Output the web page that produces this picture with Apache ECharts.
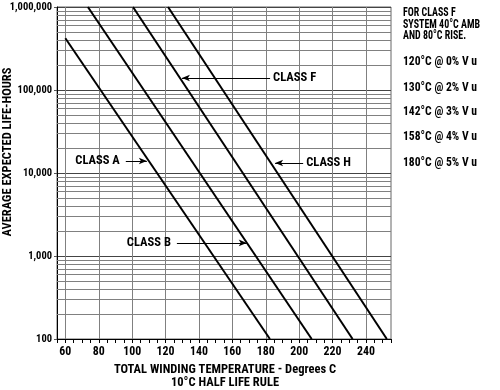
<!DOCTYPE html>
<html><head><meta charset="utf-8">
<script src="https://cdn.jsdelivr.net/npm/echarts@6/dist/echarts.min.js"></script>
<style>html,body{margin:0;padding:0;background:#fff}#c{width:500px;height:390px}</style>
</head><body><div id="c"></div>
<script>
// ---- data ----
const classA = [[60, 420000], [182.5, 100]];
const classB = [[73.5, 1000000], [207.5, 100]];
const classF = [[100.5, 1000000], [232, 100]];
const classH = [[121.5, 1000000], [252.5, 100]];
const xTickLabels = [60, 80, 100, 120, 140, 160, 180, 200, 220, 240];
const xMinorTicks = [55,60,65,70,75,80,85,90,95,100,105,110,115,120,125,130,135,140,145,150,155,160,165,170,175,180,185,190,195,200,205,210,215,220,225,230,235,240,245,250,255];
const yDecades = [100, 1000, 10000, 100000, 1000000];
const yMinorGrid = [];
[100, 1000, 10000, 100000].forEach(d => { for (let m = 2; m <= 9; m++) yMinorGrid.push(d * m); });
const notes = [
  { name: 'CLASS F', from: [182.6, 139500], to: [129.8, 139500] },
  { name: 'CLASS H', from: [202.4, 13200], to: [185.6, 13200] },
  { name: 'CLASS A', from: [96.2, 13950], to: [108.8, 13950] },
  { name: 'CLASS B', from: [126.8, 1436], to: [168.6, 1436] }
];
const sideHeader = ['FOR CLASS F', 'SYSTEM 40°C AMB', 'AND 80°C RISE.'];
const sideRows = ['120°C @ 0% V u', '130°C @ 2% V u', '142°C @ 3% V u', '158°C @ 4% V u', '180°C @ 5% V u'];
const xTitle = ['TOTAL WINDING TEMPERATURE - Degrees C', '10°C HALF LIFE RULE'];
const yTitle = 'AVERAGE EXPECTED LIFE-HOURS';

const FONT = '"Noto Sans Condensed","Roboto Condensed","Liberation Sans Narrow","Liberation Sans",Arial,sans-serif';
const fmt = v => String(Math.round(v)).replace(/\B(?=(\d{3})+(?!\d))/g, ',');

// text measuring, to squeeze the bold sans into the condensed look of the original
const mctx = document.createElement('canvas').getContext('2d');
const mw = (t, s) => { mctx.font = 'bold ' + s + 'px ' + FONT; return mctx.measureText(t).width; };
const fitSize = (t, target, lo, hi) => Math.max(lo, Math.min(hi, 12 * target / mw(t, 12)));
const GS = 12.5;
const scaleFor = (t, target) => Math.min(1, target / mw(t, GS));
const gtext = (t, x, y, sx, align, rot) => ({
  type: 'text', x, y, scaleX: sx, rotation: rot || 0, silent: true, z: 10,
  style: { text: t, fontFamily: FONT, fontWeight: 'bold', fontSize: GS, fill: '#000', align, verticalAlign: 'middle' }
});

const yLabSize = fitSize('1,000,000', 40, 10.5, 13);
const xLabSize = fitSize('100', 18, 10.5, 13);

const chart = echarts.init(document.getElementById('c'), null, { renderer: 'canvas' });
const lineSeries = (name, data) => ({
  name, type: 'line', data, symbol: 'none', silent: true, z: 5,
  lineStyle: { color: '#000', width: 2 }
});
chart.setOption({
  animation: false,
  grid: { left: 57, right: 109, top: 7, bottom: 51, show: true, borderColor: '#666', borderWidth: 1,
          containLabel: false, outerBoundsMode: 'none' },
  xAxis: {
    type: 'value', min: 55, max: 255,
    axisLine: { lineStyle: { color: '#000', width: 1 } },
    axisTick: { show: true, customValues: xMinorTicks, length: 4, lineStyle: { color: '#000' } },
    axisLabel: { customValues: xTickLabels, color: '#000', fontFamily: FONT, fontWeight: 'bold', fontSize: xLabSize, margin: 7 },
    splitLine: { show: false }
  },
  yAxis: {
    type: 'log', logBase: 10, min: 100, max: 1000000,
    axisLine: { show: true, lineStyle: { color: '#000', width: 1 } },
    axisTick: { show: true, length: 3, lineStyle: { color: '#555' } },
    axisLabel: { formatter: fmt, color: '#000', fontFamily: FONT, fontWeight: 'bold', fontSize: yLabSize, margin: 5 },
    splitLine: { show: true, lineStyle: { color: '#444', width: 1 } }
  },
  series: [
    {
      name: 'grid', type: 'line', data: [], silent: true, z: 1,
      markLine: {
        silent: true, animation: false, symbol: ['none', 'none'], label: { show: false },
        lineStyle: { color: '#808080', width: 1, type: 'solid' },
        data: xTickLabels.map(v => ({ xAxis: v })).concat(yMinorGrid.map(v => ({ yAxis: v })))
      }
    },
    lineSeries('CLASS A', classA),
    lineSeries('CLASS B', classB),
    lineSeries('CLASS F', classF),
    lineSeries('CLASS H', classH),
    {
      name: 'notes', type: 'line', data: [], silent: true, z: 6,
      markLine: {
        silent: true, animation: false, symbol: ['none', 'arrow'], symbolSize: [5, 8],
        lineStyle: { color: '#000', width: 1, type: 'solid' },
        label: { show: false },
        data: notes.map(n => [{ name: n.name, coord: n.from }, { coord: n.to }])
      }
    }
  ]
});

// texts: annotation labels anchored at the arrow tails (pixel positions from the chart's own scales)
const g = [];
notes.forEach(n => {
  const p = chart.convertToPixel({ xAxisIndex: 0, yAxisIndex: 0 }, n.from);
  const leftward = n.to[0] < n.from[0];
  g.push(gtext(n.name, leftward ? p[0] + 3 : p[0] - 6, p[1], scaleFor('CLASS F', 43), leftward ? 'left' : 'right'));
});
const hs = scaleFor('SYSTEM 40°C AMB', 77);
const sideY1 = [13, 25, 36];
sideHeader.forEach((t, i) => g.push(gtext(t, 403, sideY1[i], hs, 'left')));
const rs = scaleFor('120°C @ 0% V u', 74);
const sideY2 = [62, 88, 112, 137, 163];
sideRows.forEach((t, i) => g.push(gtext(t, 403, sideY2[i], rs, 'left')));
g.push(gtext(xTitle[0], 225, 370, scaleFor(xTitle[0], 224), 'center'));
g.push(gtext(xTitle[1], 225, 383, scaleFor(xTitle[0], 224), 'center'));
g.push(gtext(yTitle, 8, 152, scaleFor(yTitle, 181), 'center', Math.PI / 2));
chart.setOption({ graphic: g });
</script></body></html>
